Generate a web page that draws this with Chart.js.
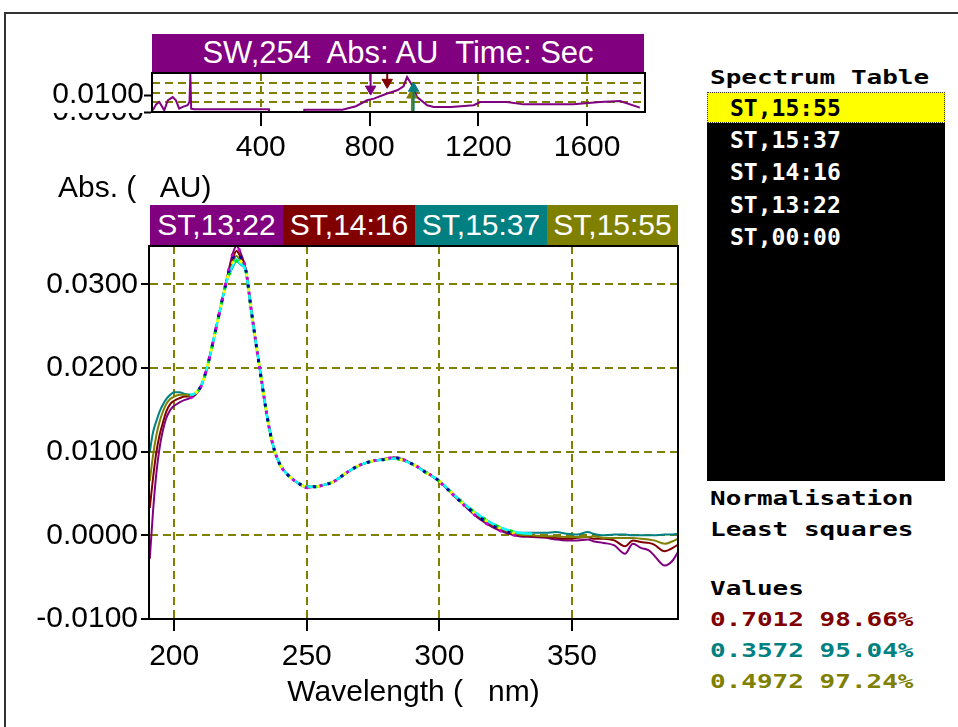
<!DOCTYPE html>
<html><head><meta charset="utf-8"><title>Spectrum comparison</title>
<script src="https://cdn.jsdelivr.net/npm/chart.js@4.4.1/dist/chart.umd.min.js"></script>
<style>
html,body{margin:0;padding:0;background:#fff}
body{position:relative;width:958px;height:727px;overflow:hidden;font-family:"Liberation Sans",Arial,sans-serif;color:#000}
.a{position:absolute;white-space:pre}
#frame{left:4px;top:12px;width:990px;height:760px;border-left:2px solid #333;border-top:2px solid #333}
#topTitle{left:152px;top:34px;width:492px;height:38px;background:#800080;color:#fff;font-size:31px;line-height:38px;text-align:center}
#absLabel{left:58px;top:169px;font-size:30px;line-height:36px}
.leg{top:205px;height:40px;color:#fff;font-size:30px;line-height:40px;text-align:center;overflow:hidden}
.mono{font-family:"DejaVu Sans Mono","Liberation Mono",monospace;font-weight:bold}
.wide{font-size:20px;line-height:22px;transform:scaleX(1.3);transform-origin:0 50%}
#list{left:707px;top:92px;width:238px;height:389px;background:#000}
#sel{left:707px;top:92px;width:236px;height:29px;background:#ff0;border:1px dotted #333}
.item{left:730px;font-size:23px;line-height:32px;color:#fff}
</style></head><body>
<div id="frame" class="a"></div>
<div id="topTitle" class="a">SW,254  Abs: AU  Time: Sec</div>
<canvas id="topChart" class="a" style="left:0;top:50px" width="700" height="120"></canvas>
<div id="absLabel" class="a">Abs. (   AU)</div>
<canvas id="mainChart" class="a" style="left:0;top:200px" width="700" height="527"></canvas>
<div id="legendBand"></div>
<div id="panel"></div>
<script>
// ---------- data ----------
const wavelengths = [190.8, 192, 193.3, 194.5, 195.5, 197, 198.5, 200, 202, 204,
  206, 208, 210, 212, 214, 216, 218, 220, 222, 223.5,
  225, 227, 229, 231, 233, 235, 237, 239, 241, 244,
  247, 250, 253, 256, 260, 265, 270, 275, 280, 283,
  286, 290, 295, 300, 305, 310, 315, 320, 325, 330,
  335, 340, 344, 348, 352, 356, 358, 362, 366, 370,
  373, 376, 379, 381, 385, 388, 390];

const abs_ST1322 = [-0.0028, 0.0028, 0.0075, 0.0105, 0.0122, 0.0140, 0.0150, 0.0155, 0.0159, 0.0162,
  0.0164, 0.0168, 0.0177, 0.0196, 0.0222, 0.0251, 0.0280, 0.0309, 0.0336, 0.0346,
  0.0338, 0.0318, 0.0271, 0.0226, 0.0184, 0.0143, 0.0111, 0.0091, 0.0079, 0.0069,
  0.0062, 0.0057, 0.0058, 0.0060, 0.0064, 0.0075, 0.0084, 0.0089, 0.0092, 0.0093,
  0.0091, 0.0085, 0.0076, 0.0064, 0.0049, 0.0034, 0.0020, 0.0010, 0.0003, -0.0001,
  -0.0002, -0.0003, -0.0005, -0.0006, -0.0006, -0.0005, -0.0007, -0.0009, -0.0012, -0.0022,
  -0.0010, -0.0015, -0.0018, -0.0024, -0.0036, -0.0030, -0.0020];

const abs_ST1416 = [0.0033, 0.0068, 0.0100, 0.0120, 0.0132, 0.0148, 0.0157, 0.0161, 0.0164, 0.0166,
  0.0166, 0.0169, 0.0178, 0.0196, 0.0222, 0.0251, 0.0280, 0.0308, 0.0330, 0.0340,
  0.0333, 0.0318, 0.0271, 0.0226, 0.0184, 0.0143, 0.0111, 0.0091, 0.0079, 0.0069,
  0.0062, 0.0058, 0.0058, 0.0060, 0.0064, 0.0075, 0.0084, 0.0089, 0.0091, 0.0093,
  0.0091, 0.0085, 0.0075, 0.0065, 0.0049, 0.0035, 0.0022, 0.0012, 0.0005, 0.0000,
  -0.0001, -0.0002, -0.0003, -0.0004, -0.0003, -0.0002, -0.0004, -0.0004, -0.0006, -0.0013,
  -0.0006, -0.0008, -0.0009, -0.0011, -0.0019, -0.0015, -0.0011];

const abs_ST1537 = [0.0100, 0.0123, 0.0137, 0.0148, 0.0155, 0.0163, 0.0168, 0.0171, 0.0171, 0.0169,
  0.0168, 0.0170, 0.0178, 0.0196, 0.0222, 0.0251, 0.0280, 0.0306, 0.0320, 0.0328,
  0.0324, 0.0316, 0.0270, 0.0226, 0.0184, 0.0143, 0.0111, 0.0091, 0.0079, 0.0069,
  0.0062, 0.0058, 0.0058, 0.0060, 0.0064, 0.0075, 0.0084, 0.0089, 0.0091, 0.0092,
  0.0090, 0.0085, 0.0075, 0.0065, 0.0050, 0.0036, 0.0024, 0.0014, 0.0007, 0.0003,
  0.0003, 0.0003, 0.0004, 0.0002, 0.0001, 0.0004, 0.0002, 0.0000, 0.0001, 0.0001,
  0.0000, 0.0000, 0.0000, 0.0000, 0.0001, 0.0001, 0.0002];

const abs_ST1555 = [0.0065, 0.0095, 0.0120, 0.0136, 0.0146, 0.0157, 0.0163, 0.0166, 0.0168, 0.0168,
  0.0167, 0.0170, 0.0178, 0.0196, 0.0222, 0.0251, 0.0280, 0.0307, 0.0325, 0.0334,
  0.0328, 0.0317, 0.0271, 0.0226, 0.0184, 0.0143, 0.0111, 0.0091, 0.0079, 0.0069,
  0.0062, 0.0058, 0.0058, 0.0060, 0.0064, 0.0075, 0.0084, 0.0089, 0.0091, 0.0092,
  0.0090, 0.0085, 0.0075, 0.0065, 0.0050, 0.0035, 0.0023, 0.0013, 0.0006, 0.0001,
  0.0000, -0.0001, -0.0001, -0.0002, -0.0002, -0.0002, -0.0001, -0.0003, -0.0003, -0.0003,
  -0.0003, -0.0004, -0.0005, -0.0006, -0.0010, -0.0007, -0.0004];

const abs_ST0000 = [0.0102, 0.0125, 0.0139, 0.0149, 0.0156, 0.0164, 0.0168, 0.0171, 0.0171, 0.0169,
  0.0168, 0.0170, 0.0178, 0.0196, 0.0222, 0.0251, 0.0280, 0.0306, 0.0322, 0.0330,
  0.0325, 0.0316, 0.0270, 0.0226, 0.0184, 0.0143, 0.0111, 0.0091, 0.0079, 0.0069,
  0.0062, 0.0058, 0.0058, 0.0060, 0.0064, 0.0075, 0.0084, 0.0089, 0.0091, 0.0092,
  0.0090, 0.0085, 0.0075, 0.0065, 0.0050, 0.0036, 0.0024, 0.0014, 0.0007, 0.0003,
  0.0002, 0.0001, 0.0001, 0.0001, 0.0000, 0.0001, 0.0000, 0.0000, 0.0000, 0.0000,
  0.0000, 0.0000, 0.0000, 0.0000, 0.0000, 0.0000, 0.0000];

const seriesNames  = ['ST,13:22', 'ST,14:16', 'ST,15:37', 'ST,15:55'];
const seriesColors = ['#800080', '#800000', '#008080', '#808000'];
const referenceName = 'ST,00:00';
const referenceColor = '#00ffff';

// axis tick values
const mainXTicks = [200, 250, 300, 350];
const mainYTicks = [-0.01, 0, 0.01, 0.02, 0.03];
const topXTicks  = [400, 800, 1200, 1600];
const topYTicks  = [0, 0.01];

// chromatogram (SW,254) trace
const chromTimes = [3, 15, 27, 45, 58, 76, 88, 100, 113, 131,
  138, 141, 144, 155, 300, 430, 431, 559, 560, 700,
  750, 791, 816, 865, 902, 925, 938, 957, 975, 1012,
  1036, 1100, 1183, 1207, 1305, 1366, 1450, 1550, 1648, 1721, 1794];
const chromAbs = [0.0010, 0.0045, 0.0059, 0.0010, 0.0069, 0.0088, 0.0069, 0.0020, 0.0030, 0.0040,
  0.0060, 0.0226, 0.0020, 0.0016, 0.0016, 0.0016, 0.0000, 0.0000, 0.0014, 0.0014,
  0.0034, 0.0069, 0.0079, 0.0109, 0.0128, 0.0152, 0.0206, 0.0157, 0.0088, 0.0040,
  0.0030, 0.0030, 0.0040, 0.0059, 0.0059, 0.0045, 0.0045, 0.0045, 0.0059, 0.0065, 0.0026];

// spectrum markers on the chromatogram (one per series)
const markerTimes  = [804, 865, 962, 956];
const markerLevels = [0.0135, 0.0175, 0.0140, 0.0100];
const markerDirs   = ['down', 'down', 'up', 'up'];

// side panel texts
const tableEntries = ['ST,15:55', 'ST,15:37', 'ST,14:16', 'ST,13:22', 'ST,00:00'];
const methodLines  = ['Normalisation', 'Least squares'];
const fitValues    = ['0.7012', '0.3572', '0.4972'];
const fitPercents  = ['98.66%', '95.04%', '97.24%'];
const fitColors    = ['#800000', '#008080', '#808000'];

// ---------- page furniture ----------
const band = document.getElementById('legendBand');
const legLeft = [150, 283, 415, 547], legW = [133, 132, 132, 131];
seriesNames.forEach((n, i) => {
  const d = document.createElement('div');
  d.className = 'a leg';
  d.style.left = legLeft[i] + 'px'; d.style.width = legW[i] + 'px';
  d.style.background = seriesColors[i];
  d.textContent = n;
  band.appendChild(d);
});

const panel = document.getElementById('panel');
function addText(txt, left, top, cls, color) {
  const d = document.createElement('div');
  d.className = 'a ' + cls;
  d.style.left = left + 'px'; d.style.top = top + 'px';
  if (color) d.style.color = color;
  d.textContent = txt;
  panel.appendChild(d);
  return d;
}
addText('Spectrum Table', 710, 66, 'mono wide');
const list = document.createElement('div'); list.id = 'list'; list.className = 'a'; panel.appendChild(list);
const sel = document.createElement('div'); sel.id = 'sel'; sel.className = 'a'; panel.appendChild(sel);
tableEntries.forEach((t, i) => {
  addText(t, 730, 92 + i * 32.2, 'mono item', i === 0 ? '#000' : '#fff');
});
methodLines.forEach((t, i) => addText(t, 710, 487 + i * 31, 'mono wide'));
addText('Values', 710, 577, 'mono wide');
fitValues.forEach((v, i) => addText(v + ' ' + fitPercents[i], 710, 608 + i * 31, 'mono wide', fitColors[i]));

// ---------- charts ----------
const OLIVE = '#808000';
const FONT = {family: '"Liberation Sans", Arial, sans-serif', size: 30};

const framePlugin = {
  id: 'frame',
  afterDraw(chart) {
    const {ctx, chartArea: ca} = chart;
    ctx.save();
    ctx.setLineDash([]);
    ctx.lineWidth = 2;
    ctx.strokeStyle = '#000';
    ctx.strokeRect(ca.left, ca.top, ca.right - ca.left, ca.bottom - ca.top);
    ctx.restore();
  }
};

function fmt4(v) { if (Math.abs(v) < 1e-9) v = 0; return v.toFixed(4); }
function pts(arr) { return wavelengths.map((w, i) => ({x: w, y: arr[i]})); }
function ptsRange(arr, lo, hi) { return pts(arr).filter(p => p.x >= lo && p.x <= hi); }
const setTicks = vals => s => { s.ticks = vals.map(v => ({value: v})); };

const seriesArrays = [abs_ST1322, abs_ST1416, abs_ST1537, abs_ST1555];

// dotted overlay (multi-coloured dots where all spectra coincide)
const dotColors = ['#d000d0', '#0000a0', '#00e000', '#ffff00'];
const overlayDatasets = seriesArrays.map((arr, i) => ({
  data: ptsRange(arr, 206, 330),
  borderColor: dotColors[i],
  borderWidth: 3,
  borderDash: [3, 12],
  borderDashOffset: i * 3,
  pointRadius: 0,
  fill: false,
  cubicInterpolationMode: 'monotone'
}));

const seriesDatasets = [3, 2, 1, 0].map(i => ({
  label: seriesNames[i],
  data: pts(seriesArrays[i]),
  borderColor: seriesColors[i],
  borderWidth: 2,
  pointRadius: 0,
  fill: false,
  cubicInterpolationMode: 'monotone'
}));

const cyanDataset = {
  label: referenceName,
  data: pts(abs_ST0000),
  borderColor: referenceColor,
  borderWidth: 2.5,
  pointRadius: 0,
  fill: false,
  cubicInterpolationMode: 'monotone',
  segment: {
    borderColor: c => (c.p0.parsed.x >= 205 && c.p1.parsed.x <= 336) ? referenceColor : 'rgba(0,0,0,0)'
  }
};

new Chart(document.getElementById('mainChart'), {
  type: 'line',
  data: {datasets: [...overlayDatasets, cyanDataset, ...seriesDatasets]},
  options: {
    responsive: false,
    animation: false,
    layout: {padding: {left: 0, right: 22, top: 46, bottom: 0}},
    plugins: {legend: {display: false}, tooltip: {enabled: false}, title: {display: false}},
    scales: {
      x: {
        type: 'linear', min: 190.5, max: 390,
        afterBuildTicks: setTicks(mainXTicks),
        afterFit: s => { s.height = 108; },
        ticks: {color: '#000', font: FONT, padding: 8, maxRotation: 0, autoSkip: false,
                callback: v => String(v)},
        grid: {color: OLIVE, lineWidth: 2, tickColor: '#000', tickLength: 12, tickWidth: 2},
        border: {display: true, color: '#000', width: 2, dash: [8, 5]},
        title: {display: true, text: 'Wavelength (   nm)', color: '#000', font: FONT, padding: {top: 0, bottom: 16}}
      },
      y: {
        type: 'linear', min: -0.01, max: 0.0346,
        afterBuildTicks: setTicks(mainYTicks),
        afterFit: s => { s.width = 149; },
        ticks: {color: '#000', font: FONT, padding: 3, autoSkip: false, callback: v => fmt4(v)},
        grid: {color: OLIVE, lineWidth: 2, tickColor: '#000', tickLength: 8, tickWidth: 2},
        border: {display: true, color: '#000', width: 2, dash: [8, 5]}
      }
    }
  },
  plugins: [framePlugin]
});

// chromatogram
const TOP_MAX = 0.023;
const markerDatasets = [];
markerTimes.forEach((t, i) => {
  const down = markerDirs[i] === 'down';
  markerDatasets.push({
    data: [{x: t, y: down ? TOP_MAX : 0}, {x: t, y: markerLevels[i]}],
    borderColor: seriesColors[i], borderWidth: 2, pointRadius: 0, fill: false
  });
  markerDatasets.push({
    type: 'scatter',
    data: [{x: t, y: markerLevels[i]}],
    pointStyle: 'triangle', rotation: down ? 180 : 0,
    pointRadius: 6, borderColor: seriesColors[i], backgroundColor: seriesColors[i], borderWidth: 1
  });
});

new Chart(document.getElementById('topChart'), {
  type: 'line',
  data: {datasets: [
    ...markerDatasets,
    {data: chromTimes.map((t, i) => ({x: t, y: chromAbs[i]})), borderColor: '#800080', borderWidth: 2,
     pointRadius: 0, fill: false, tension: 0}
  ]},
  options: {
    responsive: false,
    animation: false,
    layout: {padding: {left: 0, right: 55, top: 23, bottom: 0}},
    plugins: {legend: {display: false}, tooltip: {enabled: false}},
    scales: {
      x: {
        type: 'linear', min: 0, max: 1813,
        afterBuildTicks: setTicks(topXTicks),
        afterFit: s => { s.height = 58; },
        ticks: {color: '#000', font: FONT, padding: 4, maxRotation: 0, autoSkip: false,
                callback: v => String(v)},
        grid: {color: OLIVE, lineWidth: 2, tickColor: '#000', tickLength: 14, tickWidth: 2},
        border: {display: true, color: '#000', width: 2, dash: [8, 5]}
      },
      y: {
        type: 'linear', min: 0, max: TOP_MAX,
        afterFit: s => { s.width = 152; },
        afterBuildTicks: setTicks(topYTicks),
        ticks: {color: '#000', font: FONT, padding: 0, autoSkip: false, callback: v => fmt4(v),
                showLabelBackdrop: true, backdropColor: '#fff', backdropPadding: 0},
        grid: {drawOnChartArea: false, drawTicks: true, tickColor: '#000', tickLength: 8, tickWidth: 2},
        border: {display: true, color: '#000', width: 2}
      },
      y2: {
        type: 'linear', position: 'right', min: 0, max: 4,
        afterFit: s => { s.width = 0; },
        ticks: {display: false, stepSize: 1},
        grid: {color: OLIVE, lineWidth: 2, drawTicks: false},
        border: {display: false, dash: [8, 5]}
      }
    }
  },
  plugins: [framePlugin]
});
</script>
</body></html>
